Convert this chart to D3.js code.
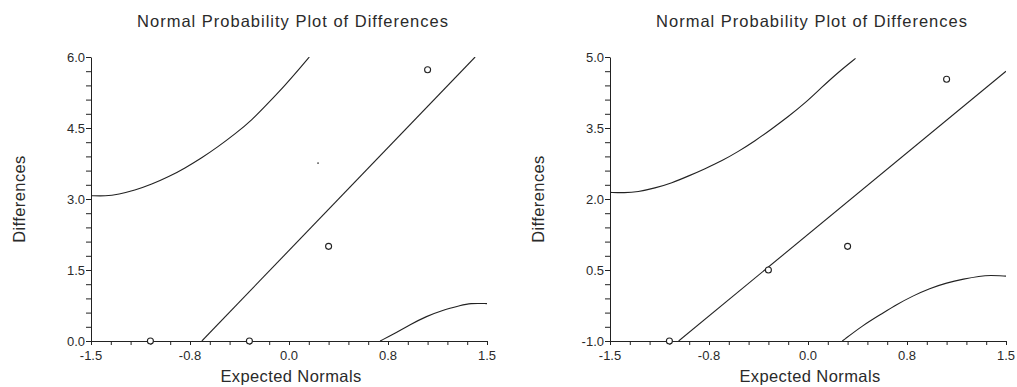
<!DOCTYPE html>
<html>
<head>
<meta charset="utf-8">
<script src="https://cdn.jsdelivr.net/npm/d3@7"></script>
<style>
  body { margin: 0; background: #fff; }
  text { font-family: "Liberation Sans", Arial, sans-serif; fill: #2a2a2a; }
</style>
</head>
<body>
<div id="chart"></div>
<script>
// tick labels (shared x, per-panel y)
var xTickValues = [-1.5, -0.75, 0, 0.75, 1.5];
var xTickLabels = ["-1.5", "-0.8", "0.0", "0.8", "1.5"];
var leftYTickValues = [0, 1.5, 3, 4.5, 6];
var leftYTickLabels = ["0.0", "1.5", "3.0", "4.5", "6.0"];
var rightYTickValues = [-1, 0.5, 2, 3.5, 5];
var rightYTickLabels = ["-1.0", "0.5", "2.0", "3.5", "5.0"];

// left panel: observed points (expected normal, difference)
var leftExpected = [-1.05, -0.30, 0.30, 1.05];
var leftDiffs = [0, 0, 2.0, 5.73];
var leftStray = [[0.22, 3.76]];
var leftFit = [[-0.66, 0], [1.41, 6.0]];
var leftUpper = [[-1.5, 3.07], [-1.39, 3.06], [-1.29, 3.10], [-1.17, 3.18], [-1.04, 3.31],
  [-0.91, 3.47], [-0.79, 3.65], [-0.66, 3.87], [-0.54, 4.10], [-0.41, 4.37], [-0.28, 4.67],
  [-0.16, 5.02], [-0.03, 5.40], [0.10, 5.82], [0.154, 6.0]];
var leftLower = [[0.69, 0], [0.79, 0.14], [0.92, 0.35], [1.04, 0.52], [1.17, 0.66],
  [1.30, 0.75], [1.37, 0.80], [1.5, 0.79]];

// right panel
var rightExpected = [-1.05, -0.30, 0.30, 1.05];
var rightDiffs = [-1.0, 0.5, 1.0, 4.53];
var rightFit = [[-0.98, -1.0], [1.5, 4.70]];
var rightUpper = [[-1.5, 2.14], [-1.39, 2.13], [-1.29, 2.15], [-1.16, 2.23], [-1.03, 2.34],
  [-0.91, 2.48], [-0.78, 2.64], [-0.65, 2.81], [-0.53, 3.00], [-0.40, 3.23], [-0.28, 3.47],
  [-0.15, 3.74], [-0.02, 4.03], [0.10, 4.35], [0.23, 4.68], [0.36, 4.97]];
var rightLower = [[0.26, -1.0], [0.42, -0.66], [0.55, -0.44], [0.67, -0.23], [0.80, -0.04],
  [0.92, 0.11], [1.05, 0.23], [1.18, 0.31], [1.30, 0.37], [1.38, 0.39], [1.5, 0.37]];

var W = 1017, H = 387;
var svg = d3.select('#chart').append('svg')
  .attr('width', W)
  .attr('height', H);

function drawPanel(id, left, yDomain, yTicks, yLabels, expected, diffs, fit, upper, lower, stray) {
  var x = d3.scaleLinear().domain([-1.5, 1.5]).range([left, left + 396]);
  var y = d3.scaleLinear().domain(yDomain).range([341, 57]);
  var g = svg.append('g');

  g.append('clipPath').attr('id', id)
    .append('rect')
    .attr('x', x(-1.5)).attr('y', y(yDomain[1]))
    .attr('width', 396).attr('height', 284);

  // minor ticks every 1/20 of the range
  var xMinor = d3.range(21).map(function (i) { return -1.5 + i * 0.15; });
  var yStep = (yDomain[1] - yDomain[0]) / 20;
  var yMinor = d3.range(21).map(function (i) { return yDomain[0] + i * yStep; });

  var xAxis = g.append('g')
    .attr('transform', 'translate(0,' + y(yDomain[0]) + ')')
    .call(d3.axisBottom(x).tickValues(xMinor).tickSize(4).tickSizeOuter(0).tickFormat(''));
  xAxis.select('.domain').attr('stroke', '#222');
  xAxis.selectAll('.tick line').attr('stroke', '#222');

  g.selectAll('.xlab').data(xTickValues).enter().append('text')
    .attr('x', function (d) { return x(d); })
    .attr('y', 360)
    .attr('text-anchor', 'middle')
    .style('font-size', '13px')
    .text(function (d, i) { return xTickLabels[i]; });

  var yAxis = g.append('g')
    .attr('transform', 'translate(' + x(-1.5) + ',0)')
    .call(d3.axisLeft(y).tickValues(yMinor).tickSize(5).tickSizeOuter(0).tickFormat(''));
  yAxis.select('.domain').attr('stroke', '#222');
  yAxis.selectAll('.tick line').attr('stroke', '#222');

  g.selectAll('.ylab').data(yTicks).enter().append('text')
    .attr('x', x(-1.5) - 6)
    .attr('y', function (d) { return y(d); })
    .attr('dy', '0.35em')
    .attr('text-anchor', 'end')
    .style('font-size', '13px')
    .text(function (d, i) { return yLabels[i]; });

  var line = d3.line()
    .x(function (d) { return x(d[0]); })
    .y(function (d) { return y(d[1]); })
    .curve(d3.curveBasis);

  var plot = g.append('g').attr('clip-path', 'url(#' + id + ')');
  [fit, upper, lower].forEach(function (pts) {
    plot.append('path')
      .attr('d', line(pts))
      .attr('fill', 'none')
      .attr('stroke', '#222')
      .attr('stroke-width', 1.1);
  });

  g.selectAll('.pt').data(expected).enter().append('circle')
    .attr('cx', function (d) { return x(d); })
    .attr('cy', function (d, i) { return y(diffs[i]); })
    .attr('r', 3)
    .attr('fill', '#fff')
    .attr('stroke', '#222')
    .attr('stroke-width', 1.1);

  if (stray) {
    g.selectAll('.stray').data(stray).enter().append('circle')
      .attr('cx', function (d) { return x(d[0]); })
      .attr('cy', function (d) { return y(d[1]); })
      .attr('r', 0.9)
      .attr('fill', '#444');
  }

  var cx = left + 198;
  g.append('text')
    .attr('x', cx + 4).attr('y', 27)
    .attr('text-anchor', 'middle')
    .style('font-size', '16.5px')
    .style('letter-spacing', '1px')
    .text('Normal Probability Plot of Differences');

  g.append('text')
    .attr('x', cx + 2).attr('y', 382)
    .attr('text-anchor', 'middle')
    .style('font-size', '16.5px')
    .style('letter-spacing', '0.4px')
    .text('Expected Normals');

  g.append('text')
    .attr('transform', 'translate(' + (left - 66) + ',199) rotate(-90)')
    .attr('text-anchor', 'middle')
    .style('font-size', '16.5px')
    .style('letter-spacing', '0.4px')
    .text('Differences');
}

drawPanel('clipL', 91, [0, 6], leftYTickValues, leftYTickLabels,
  leftExpected, leftDiffs, leftFit, leftUpper, leftLower, leftStray);
drawPanel('clipR', 610, [-1, 5], rightYTickValues, rightYTickLabels,
  rightExpected, rightDiffs, rightFit, rightUpper, rightLower, null);
</script>
</body>
</html>
